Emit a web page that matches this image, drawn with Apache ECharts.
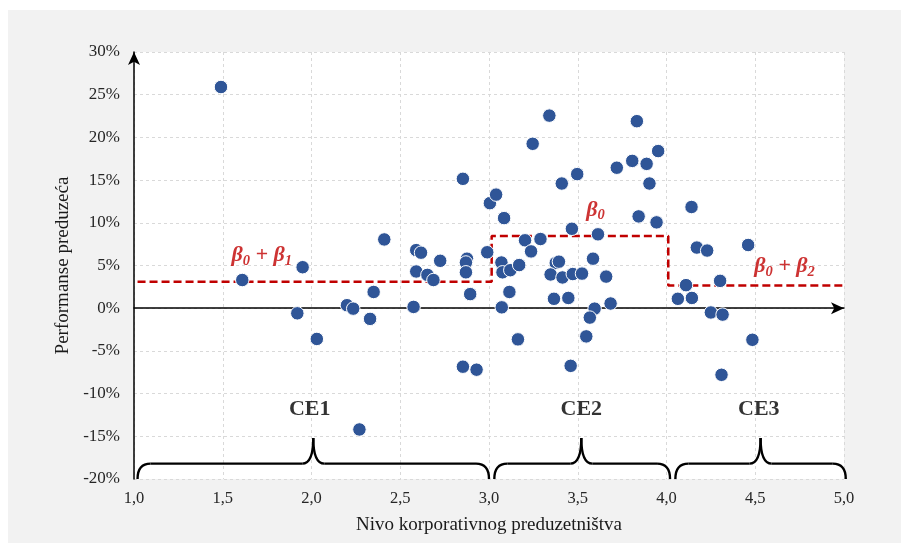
<!DOCTYPE html>
<html><head><meta charset="utf-8">
<script src="https://cdn.jsdelivr.net/npm/echarts@6/dist/echarts.min.js"></script>
<style>html,body{margin:0;padding:0;background:#fff}#c{width:901px;height:543px}</style>
</head><body><div id="c"></div>
<script>
// ---- data ----
const xValues = [1.49,1.61,1.95,1.92,2.03,2.20,2.235,2.33,2.35,2.41,2.27,2.575,2.59,2.617,2.59,2.653,2.687,2.725,2.853,2.876,
  2.87,2.87,2.894,2.853,2.93,2.99,3.005,3.04,3.085,3.07,3.076,3.12,3.17,3.115,3.072,3.163,3.203,3.29,3.237,3.246,
  3.34,3.41,3.497,3.467,3.376,3.394,3.347,3.414,3.472,3.524,3.366,3.447,3.46,3.548,3.586,3.66,3.614,3.595,3.568,3.685,
  3.72,3.807,3.888,3.953,3.833,3.904,3.843,3.944,4.141,4.171,4.229,4.46,4.11,4.302,4.064,4.143,4.25,4.316,4.484,4.31];
const yValues = [25.9,3.3,4.8,-0.6,-3.6,0.35,-0.05,-1.25,1.9,8.05,-14.2,0.15,6.8,6.5,4.3,3.9,3.3,5.55,15.15,5.8,
  5.35,4.2,1.65,-6.85,-7.2,6.55,12.3,13.3,10.55,5.35,4.2,4.45,5.05,1.9,0.1,-3.65,7.95,8.1,6.65,19.25,
  22.55,14.6,15.7,9.3,5.3,5.45,3.95,3.6,4.0,4.05,1.1,1.2,-6.75,-3.3,5.8,3.7,8.65,-0.05,-1.1,0.55,
  16.45,17.25,16.9,18.4,21.9,14.6,10.75,10.05,11.85,7.1,6.75,7.4,2.7,3.2,1.1,1.2,-0.5,-0.75,-3.7,-7.8];
const stepX = [1.02, 3.015, 3.015, 4.01, 4.01, 5.0];
const stepY = [3.1, 3.1, 8.45, 8.45, 2.65, 2.65];
const groupNames = ['CE1','CE2','CE3'];
const groupStart = [1.02, 3.03, 4.05];
const groupEnd = [3.0, 4.02, 5.01];
const groupMid = [2.01, 3.52, 4.53];
const groupLabelX = [1.99, 3.52, 4.52];
const groupLabelY = -11.8;
const betaLabels = [
  {x:1.72, y:6.2, parts:[['b','β'],['s','0'],['b',' + β'],['s','1']]},
  {x:3.6, y:11.5, parts:[['b','β'],['s','0']]},
  {x:4.665, y:4.9, parts:[['b','β'],['s','0'],['b',' + β'],['s','2']]}
];
// ---- chart ----
const serif = '"Liberation Serif","Times New Roman",serif';
const chart = echarts.init(document.getElementById('c'), null, {renderer:'canvas'});
const BASE = -20, MIDY = -18.2, TIPY = -15.2;
chart.setOption({
  backgroundColor: '#ffffff',
  animation: false,
  graphic: {elements: [{type:'rect', z:-100, silent:true, shape:{x:8,y:10,width:893,height:533}, style:{fill:'#f2f2f2'}}]},
  grid: {left:134, top:52, right:57, bottom:64, show:true, backgroundColor:'#ffffff', borderWidth:0},
  xAxis: [{
    type:'value', min:1, max:5, interval:0.5,
    name:'Nivo korporativnog preduzetništva', nameLocation:'middle', nameGap:37,
    nameTextStyle:{fontFamily:serif, fontSize:19, color:'#1a1a1a'},
    axisLine:{show:false, onZero:false}, axisTick:{show:false},
    axisLabel:{fontFamily:serif, fontSize:16.5, color:'#262626', margin:11,
      formatter: v => v.toFixed(1).replace('.', ',')},
    splitLine:{show:true, lineStyle:{color:'#d9d9d9', type:[3,3], width:1}}
  },{
    type:'value', min:1, max:5, position:'bottom',
    axisLine:{show:true, onZero:true, symbol:['none','arrow'], symbolSize:[9,13], lineStyle:{color:'#000', width:1.5}},
    axisTick:{show:false}, axisLabel:{show:false}, splitLine:{show:false}
  }],
  yAxis: {
    type:'value', min:-20, max:30, interval:5,
    name:'Performanse preduzeća', nameLocation:'middle', nameGap:61,
    nameTextStyle:{fontFamily:serif, fontSize:19, color:'#1a1a1a'},
    axisLine:{show:true, onZero:false, symbol:['none','arrow'], symbolSize:[9,13], lineStyle:{color:'#000', width:1.5}},
    axisTick:{show:false},
    axisLabel:{fontFamily:serif, fontSize:17, color:'#262626', margin:14, formatter:'{value}%'},
    splitLine:{show:true, lineStyle:{color:'#d9d9d9', type:[3,3], width:1}}
  },
  series: [
    {
      type:'line', xAxisIndex:0, data: stepX.map((x,i)=>[x, stepY[i]]), symbol:'none', z:3,
      lineStyle:{color:'#c00000', width:2.5, type:[8,4]}
    },
    {
      type:'scatter', xAxisIndex:0, z:5, symbolSize:13.5,
      data: xValues.map((x,i)=>[x, yValues[i]]),
      itemStyle:{color:'#2f5597', borderColor:'#ffffff', borderWidth:1, opacity:1}
    },
    {
      type:'custom', xAxisIndex:0, z:4, clip:false,
      data: groupStart.map((s,i)=>[s, groupEnd[i], groupMid[i]]),
      encode:{x:[0,1,2]},
      renderItem: function(params, api){
        const a = api.coord([api.value(0), BASE]);
        const b = api.coord([api.value(1), BASE]);
        const t = api.coord([api.value(2), TIPY]);
        const m = api.coord([api.value(0), MIDY]);
        const x0=a[0], x1=b[0], yb=a[1], ym=m[1], xt=t[0], yt=t[1];
        const st = {stroke:'#000', lineWidth:2.4, fill:null};
        return {type:'group', children:[
          {type:'bezierCurve', shape:{x1:x0,y1:yb,cpx1:x0,cpy1:ym,x2:x0+13,y2:ym}, style:st},
          {type:'line', shape:{x1:x0+13,y1:ym,x2:xt-11,y2:ym}, style:st},
          {type:'bezierCurve', shape:{x1:xt-11,y1:ym,cpx1:xt,cpy1:ym,x2:xt,y2:yt}, style:st},
          {type:'bezierCurve', shape:{x1:xt,y1:yt,cpx1:xt,cpy1:ym,x2:xt+11,y2:ym}, style:st},
          {type:'line', shape:{x1:xt+11,y1:ym,x2:x1-13,y2:ym}, style:st},
          {type:'bezierCurve', shape:{x1:x1-13,y1:ym,cpx1:x1,cpy1:ym,x2:x1,y2:yb}, style:st}
        ]};
      }
    },
    {
      type:'scatter', xAxisIndex:0, z:6, symbolSize:0, silent:true,
      data: groupLabelX.map((x,i)=>({value:[x, groupLabelY], name:groupNames[i]})),
      label:{show:true, position:'inside', formatter: p => p.name,
        fontFamily:serif, fontSize:22, fontWeight:'bold', color:'#000'}
    },
    {
      type:'scatter', xAxisIndex:0, z:6, symbolSize:0, silent:true,
      data: betaLabels.map(l=>({value:[l.x,l.y]})),
      label:{show:true, position:'inside',
        formatter: p => betaLabels[p.dataIndex].parts.map(q=>'{'+q[0]+'|'+q[1]+'}').join(''),
        rich:{
          b:{fontFamily:serif, fontSize:22, fontStyle:'italic', fontWeight:'bold', color:'#c00000', lineHeight:26, verticalAlign:'middle'},
          s:{fontFamily:serif, fontSize:14.5, fontStyle:'italic', fontWeight:'bold', color:'#c00000', lineHeight:26, verticalAlign:'bottom', padding:[10,0,0,0]}
        }
      }
    }
  ]
});
</script></body></html>
